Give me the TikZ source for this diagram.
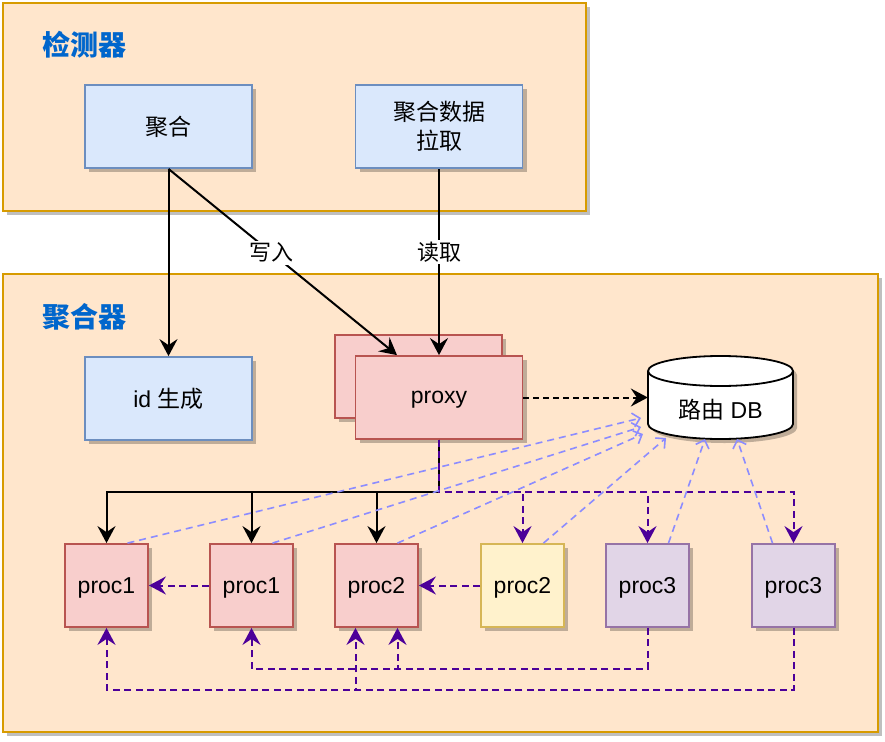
\documentclass[tikz,border=0pt]{standalone}
\usepackage{fontspec}
\setmainfont{Liberation Sans}
\newfontfamily\cjk{Noto Sans CJK SC}
\usetikzlibrary{arrows.meta,calc,shadows}
\definecolor{peach}{HTML}{FFE6CC}
\definecolor{peachline}{HTML}{D79B00}
\definecolor{bluefill}{HTML}{DAE8FC}
\definecolor{blueline}{HTML}{6C8EBF}
\definecolor{redfill}{HTML}{F8CECC}
\definecolor{redline}{HTML}{B85450}
\definecolor{yelfill}{HTML}{FFF2CC}
\definecolor{yelline}{HTML}{D6B656}
\definecolor{purfill}{HTML}{E1D5E7}
\definecolor{purline}{HTML}{9673A6}
\definecolor{purarrow}{HTML}{4C0099}
\definecolor{lightblue}{HTML}{8C8CFF}
\definecolor{titleblue}{HTML}{0066CC}
\tikzset{
  shad/.style={drop shadow={shadow xshift=4pt,shadow yshift=-4pt,opacity=0.25,fill=black}},
  outerbox/.style={draw=peachline,fill=peach,line width=1.8pt,shad,anchor=north west,inner sep=0pt},
  boxbase/.style={line width=1.8pt,shad,inner sep=2pt,align=center,font=\fontsize{23}{29}\selectfont},
  bluebox/.style={boxbase,draw=blueline,fill=bluefill,minimum width=167pt,minimum height=83pt},
  redbox/.style={boxbase,draw=redline,fill=redfill,minimum width=167pt,minimum height=83pt},
  procred/.style={boxbase,draw=redline,fill=redfill,minimum width=83pt,minimum height=83pt,text depth=0pt},
  procyel/.style={boxbase,draw=yelline,fill=yelfill,minimum width=83pt,minimum height=83pt,text depth=0pt},
  procpur/.style={boxbase,draw=purline,fill=purfill,minimum width=83pt,minimum height=83pt,text depth=0pt},
  titletext/.style={anchor=west,inner sep=0pt,text=titleblue,font=\cjk\bfseries\fontsize{28}{30}\selectfont},
  blk/.style={draw=black,line width=2pt,-{Stealth[length=17pt,width=18pt,inset=6pt]}},
  blkdash/.style={blk,dash pattern=on 6pt off 4pt},
  pur/.style={draw=purarrow,line width=2pt,dash pattern=on 7pt off 4.5pt,-{Stealth[length=17pt,width=18pt,inset=6pt]}},
  lb/.style={draw=lightblue,line width=1.6pt,dash pattern=on 7pt off 5pt,-{Straight Barb[length=7pt,width=14pt]}},
  lbl/.style={fill=white,inner sep=2pt,font=\cjk\fontsize{22}{26}\selectfont}
}
\begin{document}
\begin{tikzpicture}[x=1pt,y=1pt]
\useasboundingbox (0,0) rectangle (885,-741);
% outer containers
\node[outerbox,minimum width=583pt,minimum height=208pt] (det) at (2,-2) {};
\node[outerbox,minimum width=875pt,minimum height=458pt] (agr) at (2,-273) {};
\node[titletext] (dett) at (42,-45) {检测器};
\node[titletext] (agrt) at (42,-317) {聚合器};
% boxes
\node[bluebox] (agg) at (168.5,-126.5) {\cjk 聚合};
\node[bluebox] (pull) at (439,-126.5) {\cjk 聚合数据\\\cjk 拉取};
\node[bluebox] (idgen) at (168.5,-398.5) {id {\cjk 生成}};
\node[redbox] (proxyb) at (418.5,-376.5) {};
\node[redbox,text depth=0pt] (proxy) at (439,-397.5) {proxy};
% database cylinder
\node[minimum width=145pt,minimum height=83pt,inner sep=0pt] (db) at (720.5,-397.5) {};
\fill[black,opacity=0.25] (652,-375) arc[start angle=180,end angle=0,x radius=72.5pt,y radius=15pt] -- (797,-428) arc[start angle=0,end angle=-180,x radius=72.5pt,y radius=15pt] -- cycle;
\path[fill=white,draw=black,line width=1.8pt] (648,-371) arc[start angle=180,end angle=0,x radius=72.5pt,y radius=15pt] -- (793,-424) arc[start angle=0,end angle=-180,x radius=72.5pt,y radius=15pt] -- cycle;
\draw[line width=1.8pt] (648,-371) arc[start angle=180,end angle=360,x radius=72.5pt,y radius=15pt];
\node[font=\fontsize{23}{34}\selectfont] (dbt) at (720.5,-410) {{\cjk 路由} DB};
% procs
\node[procred] (p1a) at (106.5,-585.5) {proc1};
\node[procred] (p1b) at (251.5,-585.5) {proc1};
\node[procred] (p2a) at (376.5,-585.5) {proc2};
\node[procyel] (p2b) at (522.5,-585.5) {proc2};
\node[procpur] (p3a) at (647.5,-585.5) {proc3};
\node[procpur] (p3b) at (793.5,-585.5) {proc3};
% top connectors
\coordinate (pxin) at ($(proxy.north)+(-42,0)$);
\draw[blk] (agg.south) -- (idgen.north);
\draw[blk] (agg.south) -- node[lbl,pos=0.45] (lw) {写入} (pxin);
\draw[blk] (pull.south) -- node[lbl,pos=0.447] (lr) {读取} (proxy.north);
\draw[blkdash] (proxy.east) -- (db.west);
% distribution
\coordinate (j) at ($(proxy.south)+(0,-52)$);
\draw[blk] (proxy.south) -- (j) -| (p1a.north);
\draw[blk] (proxy.south) -- (j) -| (p1b.north);
\draw[blk] (proxy.south) -- (j) -| (p2a.north);
\draw[pur] (proxy.south) -- (j) -| (p2b.north);
\draw[pur] (proxy.south) -- (j) -| (p3a.north);
\draw[pur] (proxy.south) -- (j) -| (p3b.north);
% horizontal migrations
\draw[pur] (p1b.west) -- (p1a.east);
\draw[pur] (p2b.west) -- (p2a.east);
% bottom returns
\coordinate (b1) at ($(p3a.south)+(0,-41)$);
\coordinate (b2) at ($(p3b.south)+(0,-62)$);
\draw[pur] (p3a.south) -- (b1) -| (p1b.south);
\draw[pur] (p3a.south) -- (b1) -| ($(p2a.south)+(21,0)$);
\draw[pur] (p3b.south) -- (b2) -| (p1a.south);
\draw[pur] (p3b.south) -- (b2) -| ($(p2a.south)+(-21,0)$);
% route lookups
\coordinate (t1) at (641,-418);
\coordinate (t2) at (641,-427);
\coordinate (t3) at (643,-434);
\coordinate (t4) at (666,-438);
\coordinate (t5) at (705,-439);
\coordinate (t6) at (737,-439);
\draw[lb] ($(p1a.north)+(21,0)$) -- (t1);
\draw[lb] ($(p1b.north)+(21,0)$) -- (t2);
\draw[lb] ($(p2a.north)+(21,0)$) -- (t3);
\draw[lb] ($(p2b.north)+(21,0)$) -- (t4);
\draw[lb] ($(p3a.north)+(21,0)$) -- (t5);
\draw[lb] ($(p3b.north)+(-21,0)$) -- (t6);
\end{tikzpicture}
\end{document}
